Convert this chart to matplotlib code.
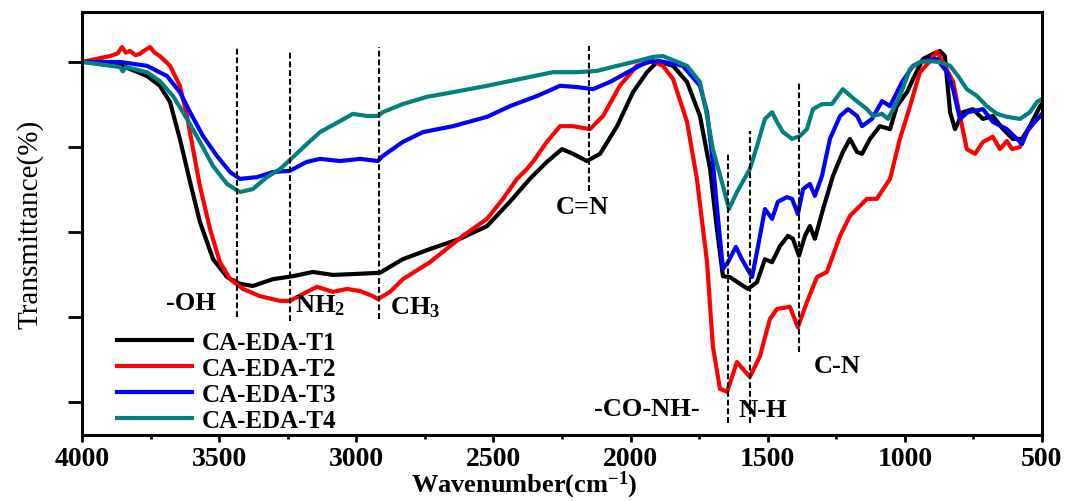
import matplotlib
matplotlib.use("Agg")
import matplotlib.pyplot as plt
from matplotlib.ticker import MultipleLocator

plt.rcParams['font.family'] = ['Liberation Serif', 'DejaVu Serif']
plt.rcParams['mathtext.fontset'] = 'custom'
plt.rcParams['mathtext.rm'] = 'Liberation Serif:bold'
plt.rcParams['mathtext.it'] = 'Liberation Serif:bold'
plt.rcParams['mathtext.bf'] = 'Liberation Serif:bold'
plt.rcParams['mathtext.default'] = 'rm'

# FTIR spectra (wavenumber cm-1, transmittance %)
t1_wn = [4000, 3887, 3763, 3716, 3679, 3643, 3606, 3570, 3522, 3471, 3424, 3377, 3304, 3231,
         3158, 3085, 3012, 2914, 2830, 2731, 2622, 2523, 2440, 2367, 2305, 2250, 2210, 2159,
         2111, 2049, 1991, 1940, 1900, 1845, 1794, 1747, 1710, 1685, 1663, 1638, 1601, 1572,
         1539, 1510, 1484, 1455, 1426, 1408, 1386, 1364, 1346, 1328, 1298, 1262, 1226, 1200,
         1174, 1156, 1127, 1091, 1054, 1029, 992, 970, 934, 897, 872, 854, 835, 817, 788, 752,
         715, 679, 642, 606, 573, 544, 507, 500]
t1_tr = [100, 100, 96.7, 94.4, 90.6, 81.9, 71.8, 62.4, 53.6, 49.4, 47.8, 47.3, 48.9, 49.6,
         50.6, 49.9, 50.1, 50.4, 53.6, 56.0, 58.4, 61.4, 67.1, 72.5, 76.5, 79.5, 78.4, 76.7,
         78.4, 84.9, 92.9, 97.6, 100.2, 99.1, 95.3, 87.3, 74.8, 60.7, 49.6, 49.4, 47.8, 46.6,
         48.2, 53.6, 52.9, 56.7, 59.1, 58.4, 54.4, 59.1, 61.4, 58.4, 65.4, 73.2, 78.8, 81.9,
         78.8, 78.4, 81.9, 84.9, 84.2, 89.6, 92.9, 96.0, 100.7, 101.9, 102.6, 101.4, 88.2, 84.2,
         88.2, 88.9, 86.6, 87.3, 84.2, 81.9, 81.9, 84.9, 89.6, 90.1]

t2_wn = [4000, 3898, 3870, 3854, 3840, 3825, 3805, 3789, 3770, 3752, 3735, 3716, 3679, 3643,
         3617, 3595, 3570, 3533, 3497,
         3460, 3413, 3351, 3278, 3242, 3180, 3143, 3085, 3034, 2986, 2939, 2921, 2877, 2830,
         2731, 2611, 2523, 2465, 2414, 2378, 2356, 2305, 2257, 2210, 2148, 2100, 2039, 1977,
         1918, 1882, 1845, 1794, 1758, 1721, 1700, 1674, 1648, 1612, 1565, 1528, 1492, 1466,
         1419, 1390, 1357, 1320, 1284, 1236, 1200, 1164, 1138, 1102, 1054, 1018, 981, 945, 908,
         883, 861, 824, 799, 774, 744, 715, 679, 653, 628, 609, 580, 555, 518, 500]
t2_tr = [100, 101.4, 102.0, 103.5, 102.2, 102.6, 101.6, 101.9, 102.8, 103.5, 102.2, 101.4, 99.1,
         94.4, 87.3, 79.5, 70.8, 60.7, 52.9,
         48.9, 46.6, 44.9, 43.8, 43.8, 45.9, 47.1, 45.9, 46.6, 46.1, 44.9, 44.2, 45.9, 48.9,
         52.9, 59.1, 63.1, 67.8, 72.5, 74.8, 76.5, 81.2, 84.9, 84.9, 84.2, 87.3, 94.4, 99.1,
         100.2, 99.1, 96.0, 85.9, 72.5, 52.9, 33.2, 23.1, 22.4, 29.4, 25.9, 30.8, 39.5, 41.9,
         42.4, 37.6, 43.5, 49.4, 50.6, 59.1, 63.8, 66.1, 67.8, 67.8, 72.5, 81.9, 89.6, 97.6, 100.2,
         102.4, 100, 95.3, 87.3, 79.5, 78.4, 81.2, 82.4, 79.5, 81.4, 79.5, 80.0, 83.5, 86.6, 87.3]

t3_wn = [4000, 3861, 3763, 3690, 3643, 3606, 3559, 3508, 3460, 3424, 3362, 3304, 3242, 3180,
         3132, 3059, 2986, 2921, 2903, 2830, 2757, 2647, 2523, 2440, 2341, 2257, 2195, 2137,
         2075, 2002, 1940, 1893, 1809, 1747, 1721, 1700, 1681, 1663, 1645, 1616, 1594, 1557,
         1535, 1510, 1484, 1463, 1430, 1411, 1390, 1371, 1346, 1328, 1302, 1273, 1236, 1207,
         1174, 1156, 1120, 1083, 1054, 1010, 970, 934, 883, 846, 824, 799, 770, 715, 679, 628,
         591, 573, 551, 507, 500]
t3_tr = [100, 100, 99.1, 96.7, 92.9, 88.2, 82.6, 77.9, 74.1, 72.5, 72.9, 74.1, 74.4, 76.5,
         77.2, 76.7, 77.2, 76.7, 77.9, 81.2, 83.5, 84.9, 87.1, 89.6, 92.0, 94.4, 94.1, 93.6,
         95.3, 97.9, 100, 100.2, 99.1, 94.4, 88.2, 76.5, 63.1, 51.3, 52.9, 56.5, 53.6, 49.4,
         56.7, 65.4, 63.1, 67.1, 68.2, 67.8, 64.2, 70.1, 71.3, 68.5, 73.2, 81.9, 87.3, 88.9,
         87.3, 84.9, 86.6, 90.8, 89.6, 95.3, 99.1, 100.2, 100.7, 97.6, 93.6, 86.6, 88.2, 88.9,
         85.9, 84.2, 81.9, 80.7, 84.2, 87.3, 87.8]

t4_wn = [4000, 3861, 3851, 3840, 3763, 3716, 3668, 3617, 3570, 3522, 3471, 3424, 3377, 3326,
         3278, 3231, 3180, 3132, 3059, 3012, 2961, 2921, 2903, 2830, 2742, 2647, 2523, 2403,
         2283, 2195, 2122, 2049, 1977, 1918, 1882, 1794, 1747, 1721, 1700, 1667, 1641, 1612,
         1565, 1539, 1510, 1484, 1466, 1444, 1411, 1382, 1357, 1335, 1302, 1266, 1226, 1189,
         1138, 1116, 1083, 1061, 1018, 981, 945, 908, 872, 835, 806, 774, 737, 701, 664, 628,
         580, 544, 518, 500]
t4_tr = [100, 98.8, 97.8, 98.8, 97.6, 95.5, 92.0, 86.6, 81.2, 75.5, 71.3, 69.4, 70.1, 72.9,
         74.8, 77.6, 80.7, 83.5, 86.1, 87.8, 87.3, 87.3, 88.2, 90.1, 91.8, 92.9, 94.4, 96.0,
         97.6, 97.6, 97.9, 99.1, 100.2, 101.2, 101.4, 99.1, 95.3, 87.3, 79.5, 71.8, 65.4, 69.4,
         74.8, 80.2, 86.6, 88.2, 85.9, 83.5, 81.9, 82.6, 84.2, 88.9, 90.1, 90.1, 93.6, 91.5,
         88.9, 87.3, 87.8, 86.6, 92.0, 98.4, 100, 100.2, 100, 99.1, 96.7, 93.6, 92.0, 89.6,
         87.8, 87.1, 86.6, 88.2, 90.6, 91.3]

labels = ['CA-EDA-T1', 'CA-EDA-T2', 'CA-EDA-T3', 'CA-EDA-T4']
colors = ['black', 'red', 'blue', '#008080']

# marked bands: position, top and bottom of the dashed line
band_wn = [3435, 3242, 2917, 2152, 1645, 1565, 1386]
band_top = [103.5, 102.8, 103.5, 103.8, 78.6, 83.8, 95.1]
band_bot = [40.0, 39.1, 39.5, 69.6, 15.0, 15.0, 31.8]

# band names: text, wavenumber, transmittance, alignment
band_text = ['-OH', 'NH$_2$', 'CH$_3$', 'C=N', '-CO-NH-', 'N-H', 'C-N']
text_wn = [3603, 3225, 2877, 2177, 1940, 1517, 1247]
text_tr = [43.5, 42.8, 42.4, 66.1, 18.4, 18.2, 28.7]
text_ha = ['center', 'left', 'left', 'center', 'center', 'center', 'center']

fig = plt.figure(figsize=(10.7, 5.02), dpi=100)
ax = fig.add_axes([0.0766, 0.1315, 0.8972, 0.8426])

series = [(t1_wn, t1_tr), (t2_wn, t2_tr), (t3_wn, t3_tr), (t4_wn, t4_tr)]
for (wn, tr), lab, c in zip(series, labels, colors):
    ax.plot(wn, tr, color=c, lw=3.0, label=lab)

for x, y0, y1 in zip(band_wn, band_bot, band_top):
    ax.plot([x, x], [y0, y1], color='black', lw=1.5, ls=(0, (2.8, 1.4)))

for s, x, y, ha in zip(band_text, text_wn, text_tr, text_ha):
    ax.text(x, y, s, ha=ha, va='center', fontsize=19, fontweight='bold')

ax.set_xlim(4000, 500)
ax.set_ylim(12.24, 111.76)
ax.xaxis.set_major_locator(MultipleLocator(500))
ax.xaxis.set_minor_locator(MultipleLocator(250))
ax.set_yticks([20, 40, 60, 80, 100])
ax.set_yticklabels([])
ax.tick_params(axis='x', which='major', direction='out', length=5, width=2,
               labelsize=20, pad=3)
ax.tick_params(axis='x', which='minor', direction='out', length=3, width=2)
ax.tick_params(axis='y', direction='out', length=10, width=2)
for lbl in ax.get_xticklabels():
    lbl.set_fontweight('bold')
for sp in ax.spines.values():
    sp.set_linewidth(2.2)

ax.set_xlabel('Wavenumber(cm$^{-1}$)', fontsize=19, fontweight='bold')
ax.xaxis.set_label_coords(0.461, -0.08)
ax.set_ylabel('Transmittance(%)', fontsize=21)
ax.yaxis.set_label_coords(-0.04, 0.5)

leg = ax.legend(loc='lower left', bbox_to_anchor=(0.018, -0.034), frameon=False,
                fontsize=18, labelspacing=0.12, handlelength=3.0, handletextpad=0.4,
                borderpad=0.2)
for t in leg.get_texts():
    t.set_fontweight('bold')

fig.savefig('out.png', dpi=100)
